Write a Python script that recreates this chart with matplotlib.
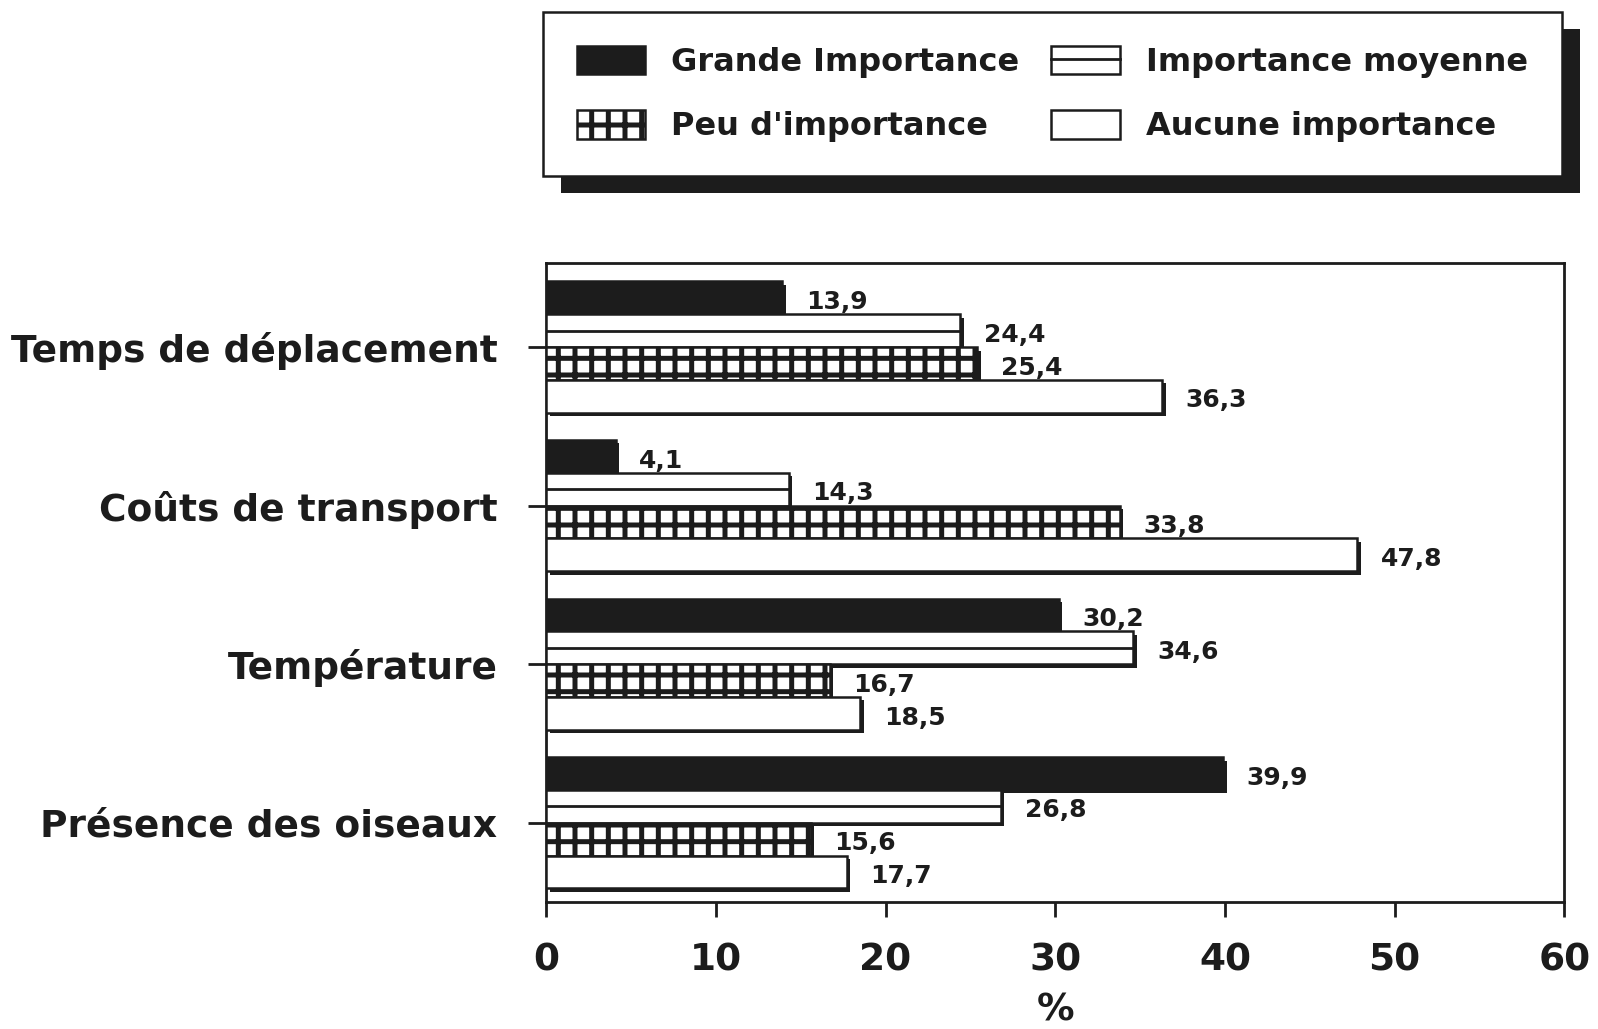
import matplotlib
matplotlib.use("Agg")
import matplotlib.pyplot as plt
import matplotlib.patheffects as pe
from matplotlib.patches import Patch
from matplotlib.lines import Line2D
import numpy as np

categories = ["Temps de déplacement", "Coûts de transport", "Température", "Présence des oiseaux"]
series_names = ["Grande Importance", "Importance moyenne", "Peu d'importance", "Aucune importance"]
grande = [13.9, 4.1, 30.2, 39.9]
moyenne = [24.4, 14.3, 34.6, 26.8]
peu = [25.4, 33.8, 16.7, 15.6]
aucune = [36.3, 47.8, 18.5, 17.7]
x_ticks = [0, 10, 20, 30, 40, 50, 60]

INK = "#1c1c1c"
plt.rcParams["font.family"] = ["DejaVu Sans"]
plt.rcParams["font.weight"] = "bold"
plt.rcParams["hatch.linewidth"] = 3.6
plt.rcParams["hatch.color"] = INK

fig = plt.figure(figsize=(15.98, 10.29), dpi=100)
ax = fig.add_axes([0.3418, 0.1234, 0.9789 - 0.3418, 0.7444 - 0.1234])

n = len(categories)
h = 0.207
ypos = np.arange(n)
shadow = [pe.SimplePatchShadow(offset=(2.5, -2.5), shadow_rgbFace=INK, alpha=1), pe.Normal()]

styles = [
    dict(facecolor=INK, hatch=None),
    dict(facecolor="white", hatch=None),
    dict(facecolor="white", hatch="+"),
    dict(facecolor="white", hatch=None),
]
all_vals = [grande, moyenne, peu, aucune]

for j, (vals, st) in enumerate(zip(all_vals, styles)):
    yy = ypos + (j - 1.5) * h
    bars = ax.barh(yy, vals, height=h, facecolor=st["facecolor"], edgecolor=INK,
                   hatch=st["hatch"], linewidth=1.8, zorder=3)
    for b in bars:
        b.set_path_effects(shadow)
    if j == 1:
        # single mid-line through the "moyenne" bars
        ax.hlines(yy, 0, vals, color=INK, linewidth=2.0, zorder=4)
    for v, y in zip(vals, yy):
        ax.annotate(f"{v:.1f}".replace(".", ","), xy=(v, y), xytext=(17, -3),
                    textcoords="offset points", ha="left", va="center",
                    fontsize=18, fontweight="bold", color=INK, zorder=5)

ax.set_xlim(0, 60)
ax.set_ylim(3.5, -0.53)
ax.set_xticks(x_ticks)
ax.set_xticklabels([str(t) for t in x_ticks])
ax.set_yticks(ypos)
ax.set_yticklabels(categories)
ax.tick_params(axis="x", direction="out", length=11, width=2, pad=18, labelsize=27, colors=INK)
ax.tick_params(axis="y", direction="out", length=13, width=2, pad=22, labelsize=27, colors=INK)
for lab in ax.get_xticklabels() + ax.get_yticklabels():
    lab.set_fontweight("bold")
for s in ax.spines.values():
    s.set_linewidth(2)
    s.set_color(INK)
ax.set_xlabel("%", fontsize=27, fontweight="bold", color=INK, labelpad=10)

h_grande = Patch(facecolor=INK, edgecolor=INK, linewidth=1.8)
h_peu = Patch(facecolor="white", edgecolor=INK, hatch="+", linewidth=1.8)
h_moy = (Patch(facecolor="white", edgecolor=INK, linewidth=1.8), Line2D([], [], color=INK, linewidth=2.0))
h_auc = Patch(facecolor="white", edgecolor=INK, linewidth=1.8)
handles = [h_grande, h_peu, h_moy, h_auc]
labels = [series_names[0], series_names[2], series_names[1], series_names[3]]
leg = fig.legend(handles, labels, ncol=2, loc="upper left", bbox_to_anchor=(0.3398, 0.988),
                 bbox_transform=fig.transFigure, fontsize=23, frameon=True, fancybox=False,
                 framealpha=1, borderaxespad=0,
                 handlelength=2.15, handleheight=1.0, handletextpad=0.82, columnspacing=1.0,
                 labelspacing=1.0, borderpad=1.05)
fr = leg.get_frame()
fr.set_edgecolor(INK)
fr.set_facecolor("white")
fr.set_linewidth(1.8)
fr.set_path_effects([pe.SimplePatchShadow(offset=(13, -12), shadow_rgbFace=INK, alpha=1), pe.Normal()])
for t in leg.get_texts():
    t.set_color(INK)
    t.set_fontweight("bold")

fig.savefig("out.png", dpi=100)
